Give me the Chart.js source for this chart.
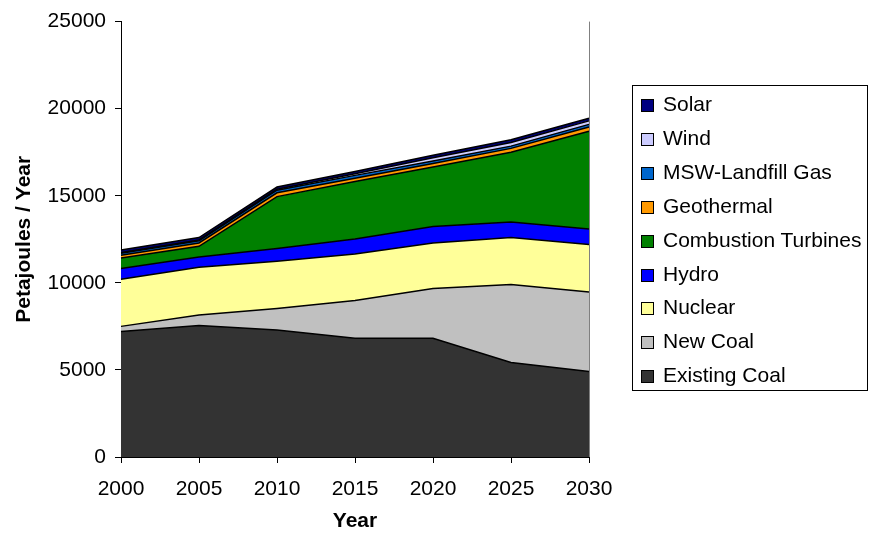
<!DOCTYPE html>
<html>
<head>
<meta charset="utf-8">
<script src="https://cdn.jsdelivr.net/npm/chart.js@4"></script>
<style>
  body { margin: 0; background: #fff; }
  #wrap { position: relative; width: 871px; height: 535px; }
  #legend {
    position: absolute; left: 632px; top: 85px; width: 236px; height: 306px;
    border: 1px solid #000; box-sizing: border-box;
    font-family: Arial, "Liberation Sans", sans-serif; font-size: 21px; color: #000;
  }
  .item { position: absolute; left: 8px; height: 24px; line-height: 24px; white-space: nowrap; }
  .swatch {
    display: inline-block; width: 11px; height: 11px; border: 1px solid #000;
    margin-right: 9px; vertical-align: -1px;
  }
</style>
</head>
<body>
<div id="wrap">
  <canvas id="energyChart" width="871" height="535"></canvas>
  <div id="legend"></div>
</div>
<script>
// --- DATA ---
const years = ['2000', '2005', '2010', '2015', '2020', '2025', '2030'];

const existingCoal = [7200, 7550, 7290, 6820, 6820, 5430, 4910];
const newCoal      = [300, 600, 1240, 2170, 2860, 4480, 4560];
const nuclear      = [2700, 2750, 2710, 2670, 2610, 2700, 2730];
const hydro        = [620, 590, 730, 860, 950, 880, 890];
const combustion   = [600, 610, 2980, 3300, 3410, 4010, 5610];
const geothermal   = [170, 190, 220, 180, 200, 220, 250];
const mswGas       = [110, 130, 150, 170, 150, 130, 150];
const wind         = [40, 40, 50, 90, 180, 210, 200];
const solar        = [140, 140, 130, 130, 140, 160, 150];

const seriesNames  = ['Existing Coal', 'New Coal', 'Nuclear', 'Hydro', 'Combustion Turbines',
                      'Geothermal', 'MSW-Landfill Gas', 'Wind', 'Solar'];
const seriesData   = [existingCoal, newCoal, nuclear, hydro, combustion, geothermal, mswGas, wind, solar];
const seriesColors = ['#333333', '#c0c0c0', '#ffff99', '#0000ff', '#008000',
                      '#ff9900', '#0066cc', '#ccccff', '#000080'];

const yTicks = [0, 5000, 10000, 15000, 20000, 25000];

// --- CHART ---
const font = { family: 'Arial, "Liberation Sans", sans-serif', size: 21 };
const titleFont = { family: font.family, size: 21, weight: 'bold' };

const datasets = seriesNames.map((name, i) => ({
    label: name,
    data: seriesData[i],
    backgroundColor: seriesColors[i],
    borderColor: '#000',
    borderWidth: 1.5,
    pointRadius: 0,
    tension: 0,
    fill: i === 0 ? 'origin' : '-1'
}));

// gray edge on the right of the plot
const rightEdge = {
    id: 'rightEdge',
    afterDraw(chart) {
        const { ctx, chartArea } = chart;
        ctx.save();
        ctx.strokeStyle = '#808080';
        ctx.lineWidth = 1;
        ctx.beginPath();
        ctx.moveTo(Math.round(chartArea.right) + 0.5, chartArea.top);
        ctx.lineTo(Math.round(chartArea.right) + 0.5, chartArea.bottom);
        ctx.stroke();
        ctx.restore();
    }
};

new Chart(document.getElementById('energyChart'), {
    type: 'line',
    data: { labels: years, datasets: datasets },
    plugins: [rightEdge],
    options: {
        responsive: false,
        animation: false,
        layout: { padding: { top: 19, left: 8, right: 282, bottom: 0 } },
        plugins: {
            legend: { display: false },
            tooltip: { enabled: false },
            filler: { drawTime: 'beforeDatasetsDraw' }
        },
        scales: {
            x: {
                offset: false,
                afterFit: (scale) => { scale.height = 78; },
                grid: { drawOnChartArea: false, drawTicks: true, tickLength: 6, color: '#000' },
                border: { color: '#000', width: 1 },
                ticks: { font: font, color: '#000', padding: 14, maxRotation: 0 },
                title: { display: true, text: 'Year', color: '#000', font: titleFont,
                         padding: { top: 4, bottom: 1 } }
            },
            y: {
                stacked: true,
                min: 0,
                max: 25000,
                afterFit: (scale) => { scale.width = 113; },
                afterBuildTicks: (scale) => { scale.ticks = yTicks.map(v => ({ value: v })); },
                grid: { drawOnChartArea: false, drawTicks: true, tickLength: 6, color: '#000' },
                border: { color: '#000', width: 1 },
                ticks: { font: font, color: '#000', padding: 9, callback: (v) => String(v) },
                title: { display: true, text: 'Petajoules / Year', color: '#000', font: titleFont,
                         padding: { top: 4, bottom: 4 } }
            }
        }
    }
});

// --- LEGEND (top to bottom mirrors the stack) ---
const legendEl = document.getElementById('legend');
[...seriesNames].reverse().forEach((name, i) => {
    const idx = seriesNames.indexOf(name);
    const item = document.createElement('div');
    item.className = 'item';
    item.style.top = (6 + i * 33.9) + 'px';
    item.innerHTML = `<span class="swatch" style="background:${seriesColors[idx]}"></span>${name}`;
    legendEl.appendChild(item);
});
</script>
</body>
</html>
